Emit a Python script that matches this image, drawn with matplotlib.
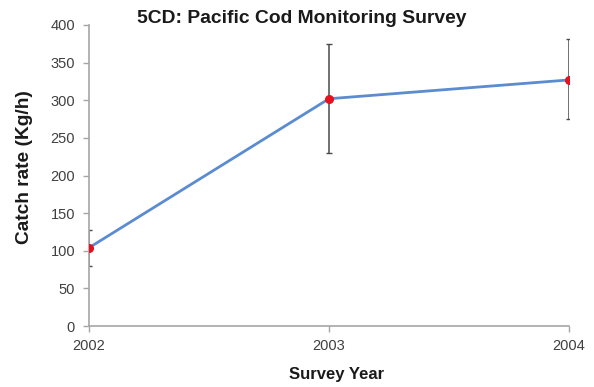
import matplotlib
matplotlib.use("Agg")
import matplotlib.pyplot as plt

years = [2002, 2003, 2004]
catch_rate = [104, 302, 327]
err_upper = [24, 73, 54]
err_lower = [24, 72, 52]

plt.rcParams['font.family'] = ['Liberation Sans', 'DejaVu Sans']

fig = plt.figure(figsize=(5.94, 3.87), dpi=100)
ax = fig.add_axes([89/594, 1-326/387, (569-89)/594, (326-25)/387])

ax.errorbar(years, catch_rate, yerr=[err_lower, err_upper], fmt='none',
            ecolor='#4a4a4a', elinewidth=1.1, capsize=2.5, capthick=1.0, zorder=2)
ax.plot(years, catch_rate, color='#5b8bd0', lw=2, zorder=3)
ax.plot(years, catch_rate, 'o', color='#e8101a', ms=5.5, zorder=4)

ax.set_xlim(2002, 2004)
ax.set_ylim(0, 400)
ax.set_xticks(years)
ax.set_xticklabels([str(y) for y in years])
ax.set_yticks(range(0, 401, 50))

for s in ['top', 'right']:
    ax.spines[s].set_visible(False)
for s in ['left', 'bottom']:
    ax.spines[s].set_color('#a6a6a6')
    ax.spines[s].set_linewidth(1.2)
ax.tick_params(axis='both', colors='#a6a6a6', labelcolor='#404040', labelsize=10.5,
               length=4, width=1)
ax.tick_params(axis='x', pad=5)
ax.tick_params(axis='y', pad=6)
for lab in ax.get_xticklabels() + ax.get_yticklabels():
    lab.set_clip_on(False)

fig.text(302/594, 1-23/387, '5CD: Pacific Cod Monitoring Survey', fontsize=13.9,
         fontweight='bold', color='#1a1a1a', ha='center', va='baseline')
fig.text(25/594, 1-167/387, 'Catch rate (Kg/h)', fontsize=13.8, fontweight='bold',
         color='#1a1a1a', ha='center', va='center', rotation=90)
fig.text(337/594, 1-379/387, 'Survey Year', fontsize=12, fontweight='bold',
         color='#1a1a1a', ha='center', va='baseline')

fig.savefig('out.png', dpi=100)
